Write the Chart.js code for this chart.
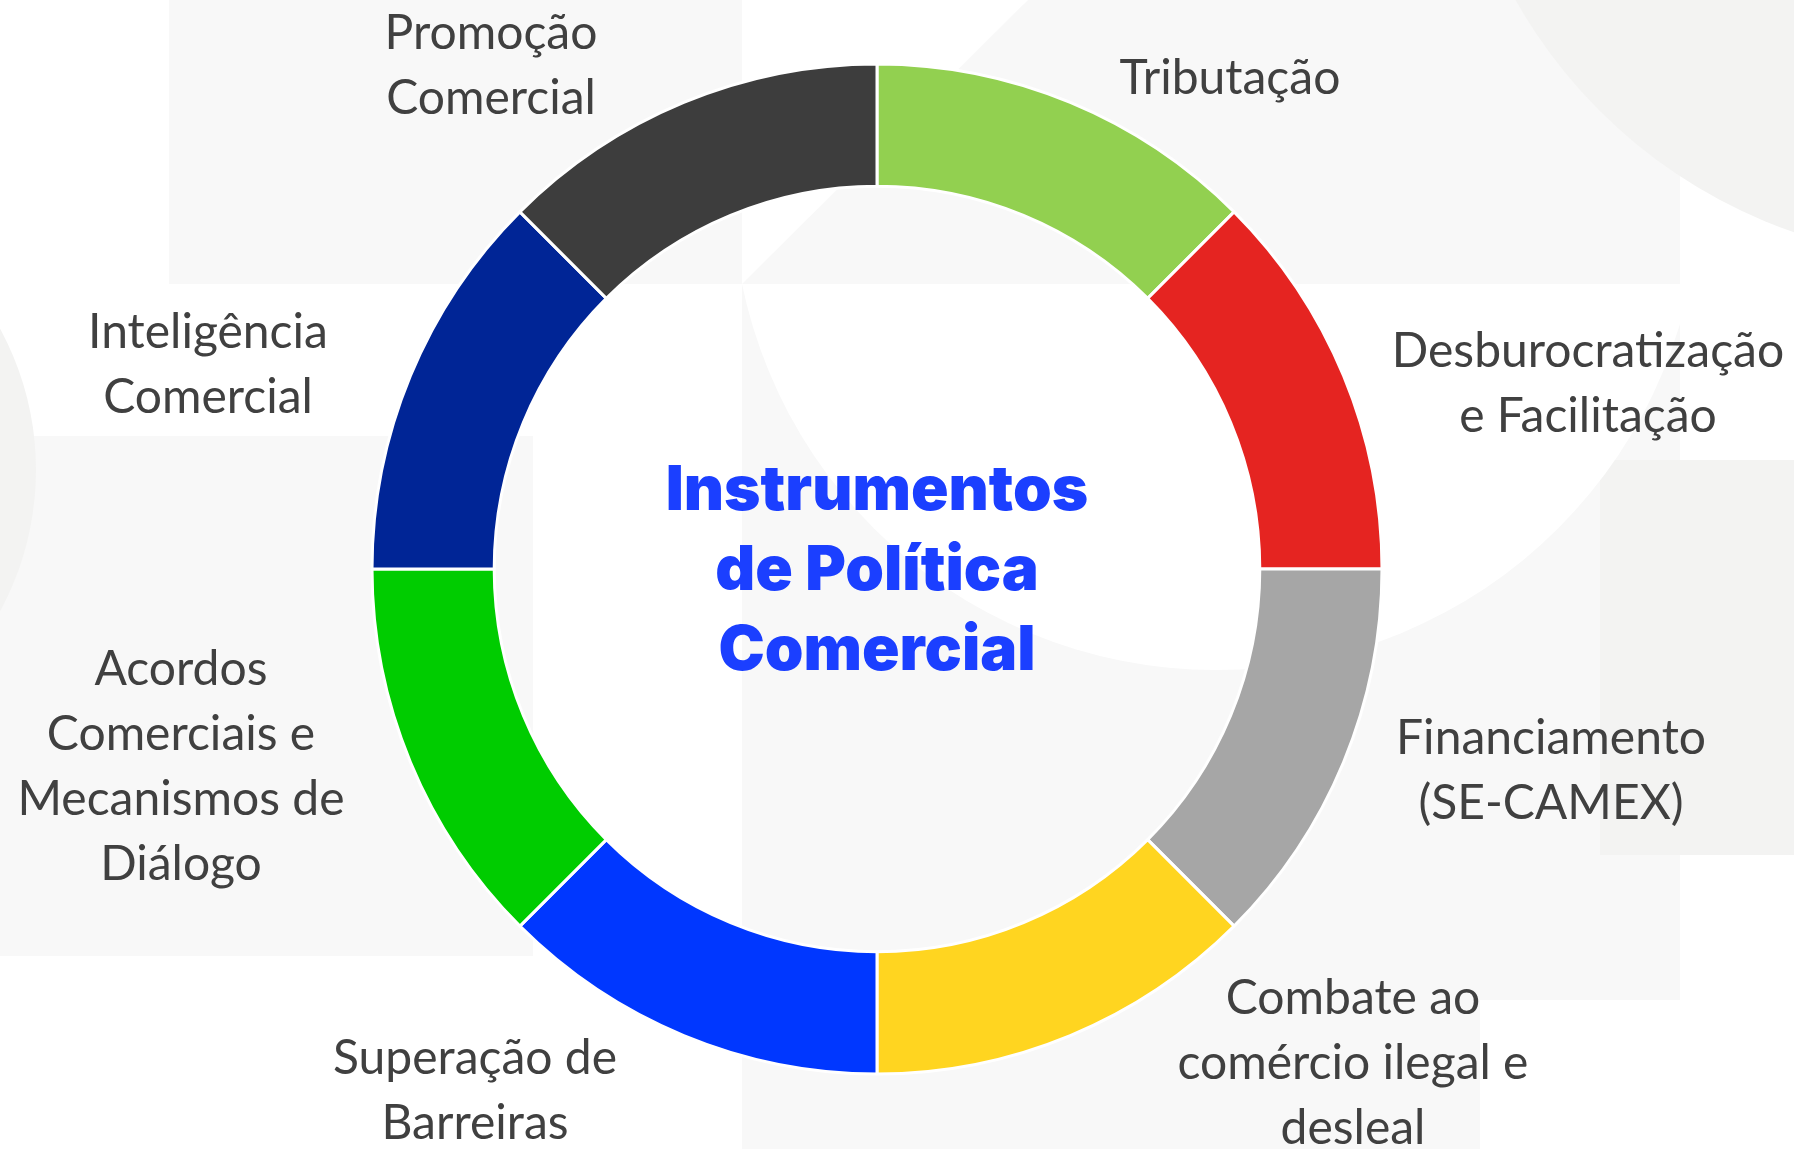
<!DOCTYPE html>
<html>
<head>
<meta charset="utf-8">
<script src="https://cdn.jsdelivr.net/npm/chart.js@4.4.1/dist/chart.umd.min.js"></script>
<style>
  html, body { margin: 0; padding: 0; background: #ffffff; }
  #wrap { width: 1794px; height: 1149px; position: relative; }
  canvas { display: block; }
</style>
</head>
<body>
<div id="wrap"><canvas id="c" width="1794" height="1149"></canvas></div>
<script>
// ---- data ----
const categories = [
  "Tributação",
  "Desburocratização e Facilitação",
  "Financiamento (SE-CAMEX)",
  "Combate ao comércio ilegal e desleal",
  "Superação de Barreiras",
  "Acordos Comerciais e Mecanismos de Diálogo",
  "Inteligência Comercial",
  "Promoção Comercial"
];
const segmentValues = [1, 1, 1, 1, 1, 1, 1, 1];
const labelLines = [
  ["Tributação"],
  ["Desburocratização", "e Facilitação"],
  ["Financiamento", "(SE-CAMEX)"],
  ["Combate ao", "comércio ilegal e", "desleal"],
  ["Superação de", "Barreiras"],
  ["Acordos", "Comerciais e", "Mecanismos de", "Diálogo"],
  ["Inteligência", "Comercial"],
  ["Promoção", "Comercial"]
];
const centerTitle = ["Instrumentos", "de Política", "Comercial"];

// ---- styles / layout ----
const segmentColors = ["#92d050", "#e52421", "#a6a6a6", "#ffd520", "#0037ff", "#00cc00", "#002596", "#3d3d3d"];
// label block anchors: offset from the chart centre (x of block centre, y of first line)
const labelOffsets = [
  [353, -490], [711, -217], [674, 170], [476, 430],
  [-402, 490], [-696, 101], [-669, -236], [-386, -535]
];
const lineHeight = 65;
const labelFont = "48px Lato";
const labelColor = "#404040";
const titleFont = "900 62px Inter";
const titleColor = "#1b3fff";
const titleLineHeight = 80;

const bgPlugin = {
  id: "bg",
  beforeDraw(chart) {
    const ctx = chart.ctx;
    ctx.save();
    ctx.fillStyle = "#ffffff";
    ctx.fillRect(0, 0, chart.width, chart.height);
    const g1 = "#f8f8f8", g2 = "#f3f3f2";
    ctx.fillStyle = g1;
    ctx.fillRect(169, 0, 573, 284);
    ctx.fillRect(0, 436, 533, 520);
    ctx.fillStyle = g2;
    ctx.beginPath(); ctx.arc(-260, 470, 296, 0, Math.PI * 2); ctx.fill();
    ctx.fillStyle = g1;
    ctx.fillRect(742, 0, 938, 1149);
    ctx.fillStyle = g2;
    ctx.fillRect(1600, 460, 194, 395);
    ctx.save();
    ctx.beginPath(); ctx.rect(1480, 0, 314, 284); ctx.clip();
    ctx.beginPath(); ctx.arc(1960, -250, 510, 0, Math.PI * 2); ctx.fill();
    ctx.restore();
    ctx.fillStyle = "#ffffff";
    ctx.save();
    ctx.beginPath(); ctx.rect(742, 284, 938, 865); ctx.clip();
    ctx.beginPath(); ctx.arc(1216, 186, 484, 0, Math.PI * 2); ctx.fill();
    ctx.restore();
    ctx.beginPath(); ctx.moveTo(742, 0); ctx.lineTo(1028, 0); ctx.lineTo(742, 284); ctx.closePath(); ctx.fill();
    ctx.fillRect(1480, 1000, 200, 149);
    ctx.restore();
  }
};

const textPlugin = {
  id: "texts",
  afterDraw(chart) {
    const ctx = chart.ctx;
    const arc0 = chart.getDatasetMeta(0).data[0];
    const cx = arc0.x, cy = arc0.y;
    ctx.save();
    ctx.textAlign = "center";
    ctx.textBaseline = "middle";
    ctx.fillStyle = labelColor;
    ctx.font = labelFont;
    labelLines.forEach((lines, i) => {
      const [ox, oy] = labelOffsets[i];
      lines.forEach((t, j) => ctx.fillText(t, cx + ox, cy + oy + j * lineHeight));
    });
    ctx.fillStyle = titleColor;
    ctx.font = titleFont;
    centerTitle.forEach((t, j) => ctx.fillText(t, cx, cy + (j - 1) * titleLineHeight + 2));
    ctx.restore();
  }
};

function build() {
  new Chart(document.getElementById("c"), {
    type: "doughnut",
    data: {
      labels: categories,
      datasets: [{
        data: segmentValues,
        backgroundColor: segmentColors,
        borderColor: "#ffffff",
        borderWidth: 3,
        hoverOffset: 0
      }]
    },
    options: {
      responsive: false,
      devicePixelRatio: 1,
      animation: false,
      rotation: 0,
      circumference: 360,
      radius: 505,
      cutout: "75.8%",
      layout: { padding: { left: 0, right: 40, top: 0, bottom: 11 } },
      plugins: { legend: { display: false }, tooltip: { enabled: false } },
      events: []
    },
    plugins: [bgPlugin, textPlugin]
  });
}

Promise.all([
  document.fonts.load(labelFont),
  document.fonts.load(titleFont)
]).catch(() => {}).then(build);
</script>
</body>
</html>
